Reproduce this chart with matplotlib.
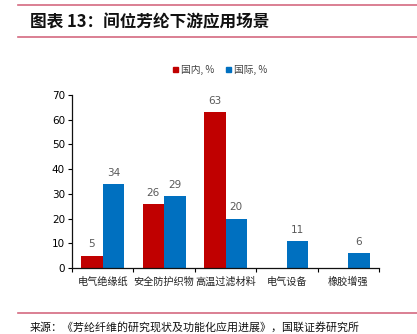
import matplotlib
matplotlib.use("Agg")
import matplotlib.pyplot as plt
import numpy as np
from matplotlib.lines import Line2D
from matplotlib.patches import Rectangle

plt.rcParams['font.family'] = ['Noto Sans CJK SC', 'DejaVu Sans']

categories = ['电气绝缘纸', '安全防护织物', '高温过滤材料', '电气设备', '橡胶增强']
domestic = [5, 26, 63, None, None]
international = [34, 29, 20, 11, 6]
series_names = ['国内, %', '国际, %']
colors = ['#C00000', '#0070C0']
yticks = [0, 10, 20, 30, 40, 50, 60, 70]

fig = plt.figure(figsize=(4.17, 3.34), dpi=100)
W, H = 417, 334

# header and footer rules
rule_color = '#D46A80'
for y in (5, 37, 313):
    fig.add_artist(Line2D([18 / W, 1.0], [1 - y / H, 1 - y / H],
                          color=rule_color, lw=1.2, transform=fig.transFigure))

fig.text(30 / W, 1 - 22 / H, '图表 13：间位芳纶下游应用场景',
         fontsize=12, fontweight='bold', va='center', ha='left', color='#111111')
fig.text(30 / W, 1 - 327 / H, '来源：《芳纶纤维的研究现状及功能化应用进展》，国联证券研究所',
         fontsize=7.9, va='center', ha='left', color='#111111')

ax = fig.add_axes([72 / W, 1 - 268 / H, (379 - 72) / W, (268 - 95) / H])

x = np.arange(len(categories))
bw = 0.35
label_color = '#595959'
for i, (vals, c) in enumerate(zip([domestic, international], colors)):
    off = (i - 0.5) * bw
    for xi, v in zip(x, vals):
        if v is None:
            continue
        ax.bar(xi + off, v, width=bw, color=c)
        ax.text(xi + off, v + 2.5, f'{v}', ha='center', va='bottom',
                fontsize=7.5, color=label_color,
                family=['Liberation Sans Narrow', 'DejaVu Sans'])

ax.set_xlim(-0.5, len(categories) - 0.5)
ax.set_ylim(0, 70)
ax.set_yticks(yticks)
ax.set_yticklabels([str(t) for t in yticks],
                   family=['Liberation Sans Narrow', 'DejaVu Sans'], fontsize=7.5)
ax.set_xticks(np.arange(len(categories) + 1) - 0.5)
ax.set_xticklabels([])
ax.tick_params(axis='x', length=3, width=0.8, direction='out')
ax.tick_params(axis='y', length=3, width=0.8, direction='out', pad=2)
for xi, cat in zip(x, categories):
    ax.text(xi, -0.08, cat, transform=ax.get_xaxis_transform(),
            ha='center', va='center', fontsize=7.3, color='#222222')

for s in ('top', 'right'):
    ax.spines[s].set_visible(False)
for s in ('left', 'bottom'):
    ax.spines[s].set_linewidth(0.9)
    ax.spines[s].set_color('#111111')

# legend
handles = [Rectangle((0, 0), 1, 1, color=c) for c in colors]
leg = fig.legend(handles, series_names, loc='center', bbox_to_anchor=(220 / W, 1 - 70 / H),
                 ncol=2, frameon=False, fontsize=7, handlelength=0.5, handleheight=0.5,
                 handletextpad=0.3, columnspacing=1.2)
for t in leg.get_texts():
    t.set_color('#404040')

fig.savefig('out.png', dpi=100)
